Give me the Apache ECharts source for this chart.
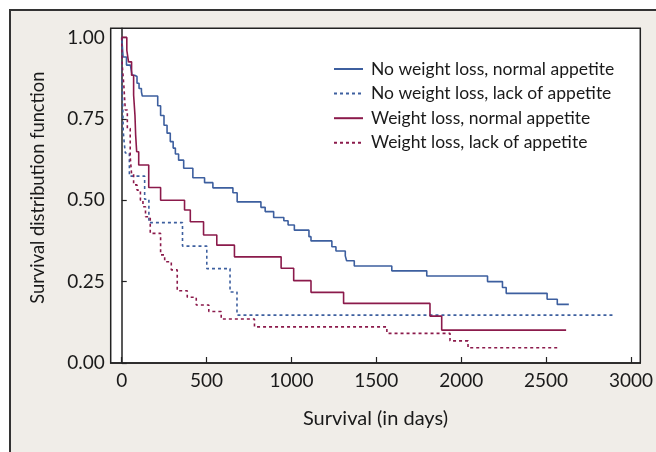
<!DOCTYPE html>
<html>
<head>
<meta charset="utf-8">
<title>Survival</title>
<script src="https://cdn.jsdelivr.net/npm/echarts@6/dist/echarts.min.js"></script>
<style>
  html, body { margin: 0; padding: 0; background: #fff; }
  .panel {
    position: absolute; left: 9px; top: 9px; width: 647px; height: 443px;
    border-top: 2px solid #333; border-left: 2px solid #333;
    background: #f0ede8; box-sizing: border-box;
  }
  #chart { position: absolute; left: 0; top: 0; width: 656px; height: 452px; }
</style>
</head>
<body>
<div class="panel"></div>
<div id="chart"></div>
<script>
// tick labels
var xTicks = [0, 500, 1000, 1500, 2000, 2500, 3000];
var yTicks = [0, 0.25, 0.5, 0.75, 1];

// No weight loss, normal appetite
var nwNormalDays = [0, 8, 28, 51, 61, 76, 90, 102, 116, 121, 212, 229, 249, 267, 286, 303, 316, 335, 365, 419, 488, 537, 655, 680, 820, 845, 895, 955, 980, 1017, 1103, 1115, 1238, 1262, 1317, 1325, 1370, 1591, 1797, 2155, 2243, 2265, 2506, 2566, 2634];
var nwNormalSurv = [1, 0.94, 0.915, 0.91, 0.884, 0.88, 0.859, 0.843, 0.833, 0.82, 0.79, 0.76, 0.73, 0.706, 0.68, 0.66, 0.642, 0.623, 0.598, 0.569, 0.554, 0.538, 0.523, 0.495, 0.478, 0.465, 0.447, 0.437, 0.424, 0.408, 0.388, 0.375, 0.357, 0.344, 0.329, 0.314, 0.298, 0.283, 0.267, 0.25, 0.232, 0.214, 0.196, 0.18, 0.18];

// No weight loss, lack of appetite
var nwLackDays = [0, 2, 6, 9, 14, 21, 45, 135, 160, 358, 501, 638, 679, 2900];
var nwLackSurv = [1, 0.86, 0.79, 0.71, 0.68, 0.645, 0.574, 0.503, 0.431, 0.359, 0.29, 0.218, 0.147, 0.147];

// Weight loss, normal appetite
var wlNormalDays = [0, 30, 40, 58, 70, 78, 82, 88, 100, 159, 229, 370, 404, 482, 560, 664, 939, 1013, 1115, 1307, 1816, 1885, 2618];
var wlNormalSurv = [1, 0.96, 0.925, 0.884, 0.823, 0.76, 0.7, 0.649, 0.608, 0.539, 0.5, 0.47, 0.434, 0.393, 0.362, 0.326, 0.291, 0.253, 0.217, 0.183, 0.144, 0.101, 0.101];

// Weight loss, lack of appetite
var wlLackDays = [0, 3, 13, 21, 33, 50, 58, 70, 90, 110, 125, 140, 168, 229, 253, 292, 327, 386, 439, 513, 586, 782, 1562, 1934, 2040, 2581];
var wlLackSurv = [1, 0.915, 0.848, 0.777, 0.72, 0.633, 0.58, 0.547, 0.531, 0.5, 0.48, 0.449, 0.398, 0.332, 0.311, 0.286, 0.222, 0.202, 0.178, 0.158, 0.135, 0.111, 0.091, 0.068, 0.047, 0.047];

var seriesNames = [
  "No weight loss, normal appetite",
  "No weight loss, lack of appetite",
  "Weight loss, normal appetite",
  "Weight loss, lack of appetite"
];

function pairs(days, surv) {
  return days.map(function (d, i) { return [d, surv[i]]; });
}

var blue = "#3d5f9f";
var maroon = "#8b1a4b";
var font = "Lato";

function kmSeries(name, data, color, dotted) {
  return {
    name: name,
    type: "line",
    step: "end",
    symbol: "none",
    data: data,
    color: color,
    lineStyle: { color: color, width: 1.6, type: dotted ? [3, 3] : "solid" },
    emphasis: { disabled: true }
  };
}

var myChart = echarts.init(document.getElementById("chart"));
var option = {
  animation: false,
  backgroundColor: "transparent",
  textStyle: { fontFamily: font },
  grid: {
    left: 110.7, right: 14.3, top: 28.3, bottom: 89,
    show: true, backgroundColor: "#fff", borderColor: "#222", borderWidth: 1.5
  },
  legend: {
    orient: "vertical",
    left: 328, top: 54,
    itemWidth: 29, itemHeight: 12, itemGap: 4.6,
    itemStyle: { opacity: 0 },
    data: seriesNames,
    textStyle: { fontFamily: font, fontSize: 17.5, color: "#1a1a1a", lineHeight: 20, padding: [0, 0, 0, 3] }
  },
  xAxis: {
    type: "value",
    min: -65, max: 3055,
    name: "Survival (in days)",
    nameLocation: "middle",
    nameGap: 46,
    nameTextStyle: { fontFamily: font, fontSize: 20, color: "#1a1a1a" },
    axisLine: { show: true, lineStyle: { color: "#222", width: 1.5 } },
    axisTick: { show: true, inside: true, length: 6, customValues: xTicks, lineStyle: { color: "#222", width: 1.2 } },
    axisLabel: {
      customValues: xTicks, margin: 8, fontSize: 19, color: "#1a1a1a", fontFamily: font,
      formatter: function (v) { return String(v); }
    },
    splitLine: { show: false }
  },
  yAxis: {
    type: "value",
    min: 0, max: 1.028,
    name: "Survival distribution function",
    nameLocation: "middle",
    nameGap: 64,
    nameTextStyle: { fontFamily: font, fontSize: 18.3, color: "#1a1a1a", padding: [0, 0, 0, 16] },
    axisLine: { show: true, lineStyle: { color: "#222", width: 1.5 } },
    axisTick: { show: true, inside: true, length: 5, customValues: yTicks, lineStyle: { color: "#222", width: 1.2 } },
    axisLabel: {
      customValues: yTicks, margin: 6, fontSize: 19, color: "#1a1a1a", fontFamily: font,
      formatter: function (v) { return v.toFixed(2); }
    },
    splitLine: { show: false }
  },
  series: [
    kmSeries(seriesNames[0], pairs(nwNormalDays, nwNormalSurv), blue, false),
    kmSeries(seriesNames[1], pairs(nwLackDays, nwLackSurv), blue, true),
    kmSeries(seriesNames[2], pairs(wlNormalDays, wlNormalSurv), maroon, false),
    kmSeries(seriesNames[3], pairs(wlLackDays, wlLackSurv), maroon, true)
  ]
};
myChart.setOption(option);
window.addEventListener("resize", function () {
  myChart.resize();
});
</script>
</body>
</html>
